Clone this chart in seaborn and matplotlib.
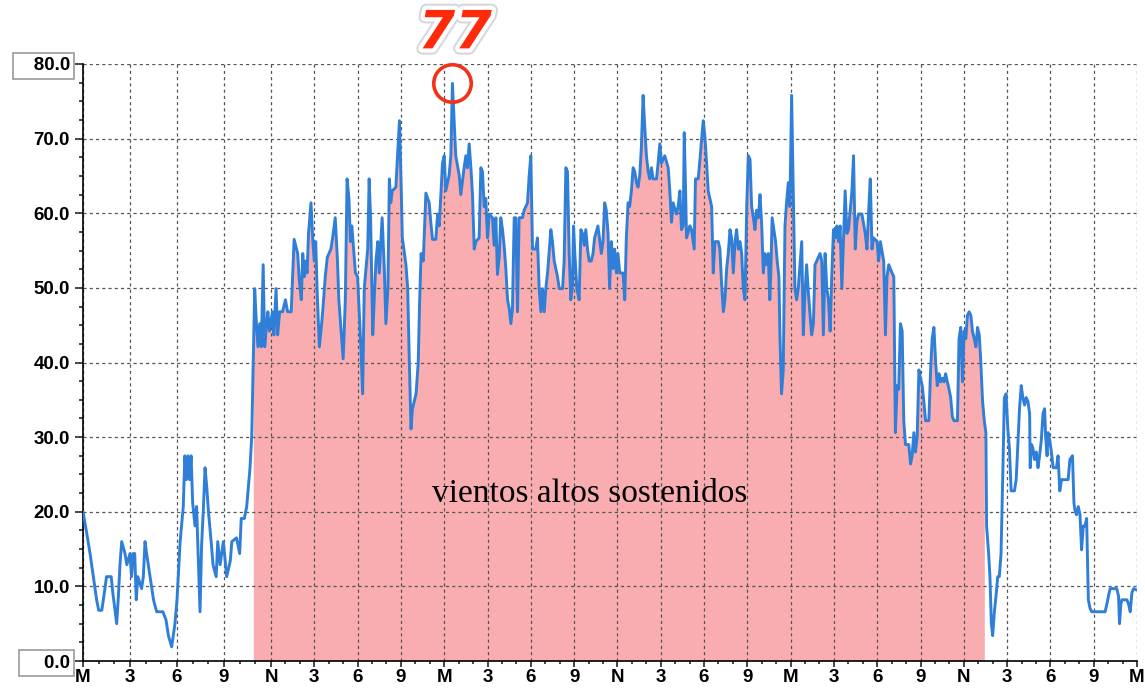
import numpy as np
import pandas as pd
import seaborn as sns
import matplotlib.pyplot as plt
from matplotlib import patheffects as pe

# Wind gust record over three days (hours since midnight, gust value)
hours = [
    0.0, 0.2, 0.45, 0.66, 0.87, 1.0, 1.2, 1.4, 1.5, 1.8, 1.9, 2.15, 2.26, 2.36, 2.47, 2.68, 2.8,
    3.0, 3.1, 3.2, 3.3, 3.4, 3.5, 3.74, 3.85, 3.96, 4.06, 4.28, 4.5, 4.7, 5.1, 5.3, 5.45, 5.66,
    5.87, 6.0, 6.2, 6.4, 6.5, 6.6, 6.7, 6.8, 6.9, 7.0, 7.15, 7.25, 7.47, 7.57, 7.68, 7.79, 7.9,
    8.0, 8.2, 8.3, 8.5, 8.6, 8.75, 8.96, 9.17, 9.4, 9.5, 9.8, 10.0, 10.1, 10.3, 10.45, 10.66,
    10.77, 10.87, 10.96, 11.07, 11.17, 11.28, 11.38, 11.5, 11.6, 11.7, 11.8, 11.9, 12.1, 12.2,
    12.35, 12.46, 12.6, 12.8, 13.0, 13.15, 13.4, 13.5, 13.6, 13.85, 13.96, 14.1, 14.2, 14.3,
    14.4, 14.5, 14.6, 14.77, 14.9, 15.0, 15.1, 15.2, 15.35, 15.46, 15.58, 15.76, 15.9, 16.15,
    16.27, 16.45, 16.6, 16.7, 16.9, 17.0, 17.15, 17.27, 17.4, 17.5, 17.6, 17.85, 18.0, 18.1,
    18.2, 18.35, 18.46, 18.58, 18.7, 18.8, 18.9, 19.05, 19.16, 19.27, 19.4, 19.5, 19.6, 19.7,
    19.85, 19.96, 20.1, 20.2, 20.3, 20.4, 20.65, 20.77, 20.9, 21.0, 21.1, 21.35, 21.47, 21.58,
    21.7, 21.8, 22.05, 22.2, 22.3, 22.4, 22.55, 22.73, 22.96, 23.07, 23.19, 23.42, 23.54, 23.65,
    23.77, 23.88, 24.0, 24.11, 24.34, 24.46, 24.57, 24.69, 24.8, 25.04, 25.15, 25.38, 25.5,
    25.61, 25.73, 25.85, 25.96, 26.08, 26.19, 26.42, 26.54, 26.65, 26.77, 26.88, 27.0, 27.12,
    27.35, 27.46, 27.58, 27.69, 27.81, 27.92, 28.04, 28.15, 28.27, 28.39, 28.5, 28.62, 28.73,
    28.85, 28.96, 29.08, 29.19, 29.42, 29.54, 29.77, 29.89, 30.0, 30.12, 30.35, 30.46, 30.58,
    30.7, 30.81, 30.93, 31.04, 31.16, 31.39, 31.5, 31.62, 31.73, 31.85, 31.97, 32.2, 32.31,
    32.43, 32.54, 32.66, 32.77, 32.89, 32.96, 33.05, 33.19, 33.35, 33.47, 33.58, 33.7, 33.81,
    33.93, 34.04, 34.19, 34.31, 34.42, 34.65, 34.89, 35.0, 35.12, 35.23, 35.35, 35.46, 35.58,
    35.7, 35.81, 35.93, 36.04, 36.16, 36.39, 36.51, 36.62, 36.74, 36.85, 36.97, 37.09, 37.2,
    37.32, 37.43, 37.55, 37.66, 37.78, 37.9, 38.01, 38.13, 38.24, 38.36, 38.47, 38.71, 38.82,
    38.94, 39.05, 39.28, 39.52, 39.63, 39.75, 39.86, 40.09, 40.21, 40.33, 40.44, 40.56, 40.63,
    40.72, 40.79, 41.02, 41.14, 41.32, 41.41, 41.6, 41.72, 41.83, 41.95, 42.06, 42.18, 42.29,
    42.53, 42.64, 42.76, 42.99, 43.1, 43.22, 43.34, 43.45, 43.57, 43.68, 43.8, 43.91, 44.03,
    44.15, 44.26, 44.38, 44.49, 44.61, 44.72, 44.84, 44.96, 45.07, 45.19, 45.3, 45.42, 45.53,
    45.65, 45.77, 45.88, 46.0, 46.11, 46.21, 46.33, 46.45, 46.56, 46.63, 46.72, 46.84, 46.96,
    47.07, 47.19, 47.26, 47.37, 47.49, 47.61, 47.72, 47.84, 47.95, 48.07, 48.19, 48.3, 48.42,
    48.53, 48.65, 48.77, 48.88, 49.0, 49.11, 49.23, 49.35, 49.46, 49.58, 49.69, 49.81, 50.04,
    50.16, 50.27, 50.39, 50.51, 50.62, 50.74, 50.85, 50.97, 51.09, 51.2, 51.32, 51.43, 51.55,
    51.67, 51.78, 51.9, 52.01, 52.13, 52.25, 52.36, 52.48, 52.59, 52.71, 52.94, 53.17, 53.29,
    53.41, 53.52, 53.64, 53.75, 53.99, 54.1, 54.22, 54.45, 54.57, 54.68, 54.8, 55.03, 55.15,
    55.26, 55.38, 55.49, 55.61, 55.73, 55.84, 55.96, 56.19, 56.31, 56.42, 56.54, 56.65, 56.77,
    56.89, 57.0, 57.12, 57.23, 57.35, 57.58, 57.7, 57.81, 57.93, 58.05, 58.16, 58.28, 58.39,
    58.51, 58.63, 58.74, 58.86, 58.98, 59.09, 59.21, 59.32, 59.56, 59.67, 59.79, 59.91, 60.02,
    60.14, 60.25, 60.37, 60.49, 60.6, 60.72, 60.84, 60.95, 61.07, 61.18, 61.3, 61.42, 61.53,
    61.58, 61.72, 61.81, 61.91, 62.0, 62.12, 62.23, 62.35, 62.46, 62.58, 62.7, 62.81, 62.93,
    63.05, 63.16, 63.28, 63.51, 63.63, 63.74, 63.86, 63.98, 64.09, 64.21, 64.32, 64.44, 64.56,
    64.6, 64.7, 64.79, 64.91, 65.02, 65.14, 65.25, 65.37, 65.49, 65.6, 65.67, 65.77, 65.84,
    65.95, 66.07, 66.19, 66.42, 66.53, 66.65, 66.77, 67.23, 67.35, 67.53, 67.63, 67.7, 67.81,
    67.93, 68.05, 68.16, 68.28, 68.4, 68.51, 68.63, 68.74, 68.86, 69.79, 69.91, 70.02, 70.14,
    70.6, 70.72, 70.79, 70.88, 70.95, 71.3, 71.42, 71.53, 71.65, 71.77, 72.0,
]
gust = [
    20.0, 17.6, 14.4, 11.3, 8.2, 6.8, 6.8, 9.7, 11.3, 11.3, 9.2, 5.0, 8.7, 12.9, 16.0, 14.4, 12.9,
    14.4, 11.3, 14.4, 14.4, 8.2, 11.3, 9.7, 11.3, 16.0, 14.4, 11.3, 8.2, 6.6, 6.6, 5.5, 3.4, 1.9,
    5.0, 8.2, 16.0, 20.7, 27.5, 24.3, 27.5, 24.3, 27.5, 21.2, 18.1, 20.7, 6.6, 15.5, 20.2, 25.9, 23.3,
    20.2, 15.5, 12.9, 11.3, 16.0, 12.9, 16.0, 11.3, 13.4, 16.0, 16.5, 14.4, 19.1, 19.1, 20.7, 25.9,
    30.1, 40.5, 49.9, 45.2, 42.1, 45.2, 42.1, 53.1, 42.1, 44.7, 46.8, 44.2, 46.8, 43.7,
    49.9, 43.7, 46.8, 46.8, 48.4, 46.8, 46.8, 51.5, 56.5, 54.6, 51.0, 48.4, 54.6, 51.5,
    53.6, 52.0, 57.3, 61.4, 56.2, 53.6, 56.2, 49.4, 42.1, 44.2, 46.8, 51.5, 54.1, 55.2,
    56.7, 59.4, 53.9, 48.4, 43.2, 40.5, 48.4, 64.6, 62.0, 56.2, 58.3, 52.0, 51.5, 47.3,
    43.2, 35.8, 49.9, 52.6, 55.2, 64.6, 59.4, 43.7, 48.9, 53.6, 56.2, 52.0, 55.7, 59.4,
    52.6, 45.2, 49.9, 64.6, 61.4, 63.0, 63.5, 67.7, 72.4, 65.1, 56.7, 53.1, 49.9, 40.5,
    31.1, 33.8, 35.8, 40.0, 48.4, 54.6, 53.6, 62.7, 61.4, 58.8, 56.5, 56.5, 59.9, 58.3,
    62.5, 66.7, 67.7, 63.0, 65.1, 67.7, 77.4, 72.4, 67.7, 65.1, 62.5, 66.1, 67.7,
    66.1, 69.3, 66.1, 62.5, 55.2, 56.2, 56.7, 66.1, 65.6, 60.9, 62.0, 56.7, 59.9,
    59.4, 55.7, 59.4, 51.8, 54.1, 59.4, 57.8, 55.7, 52.6, 48.4, 47.3, 45.2, 47.3,
    59.4, 59.4, 46.8, 59.4, 59.4, 60.4, 61.4, 65.1, 67.7, 55.2, 55.2, 56.7, 49.9,
    46.8, 49.9, 46.8, 49.9, 52.0, 57.8, 56.2, 53.6, 52.6, 51.5, 49.9, 49.9, 53.6,
    66.1, 65.6, 54.6, 48.4, 50.5, 58.3, 54.6, 49.9, 48.4, 57.8, 57.3, 55.7, 57.8,
    55.2, 53.6, 53.6, 54.6, 56.7, 58.3, 54.6, 56.2, 61.4, 60.4, 57.3, 49.9, 56.2,
    52.6, 55.2, 52.0, 54.6, 52.0, 52.0, 48.4, 56.7, 61.4, 60.9, 63.0, 66.1, 65.6,
    64.1, 63.5, 65.1, 68.8, 75.8, 71.4, 67.7, 65.6, 64.6, 66.1, 64.6, 64.6, 66.7,
    69.3, 66.7, 67.7, 66.1, 63.0, 58.8, 61.4, 59.9, 60.9, 63.0, 57.8, 58.3, 70.8,
    63.5, 56.7, 58.3, 57.8, 55.2, 64.6, 64.6, 67.2, 69.8, 72.4, 70.3, 66.7, 63.0,
    60.9, 52.0, 56.2, 56.2, 55.2, 50.5, 46.8, 48.4, 52.6, 54.6, 57.8, 56.7, 52.0,
    56.2, 57.8, 55.2, 56.2, 54.6, 49.9, 48.4, 60.9, 67.7, 67.2, 60.9, 59.4, 57.8,
    60.4, 59.4, 62.5, 58.3, 52.0, 54.6, 53.1, 54.6, 48.4, 52.0, 59.4, 57.8, 56.2,
    53.6, 51.5, 43.7, 35.8, 39.0, 58.3, 61.4, 64.1, 60.9, 75.8, 62.5, 49.9, 48.4,
    49.9, 53.1, 56.2, 43.7, 49.4, 53.1, 49.4, 46.3, 43.7, 45.2, 53.1, 53.6, 54.6,
    53.6, 43.7, 54.6, 49.9, 48.4, 44.2, 51.5, 57.8, 56.7, 58.3, 56.2, 58.3, 49.9,
    56.7, 63.0, 57.3, 57.8, 60.4, 63.0, 67.7, 55.2, 58.8, 59.9, 59.9, 57.3, 55.2,
    60.4, 64.6, 55.2, 56.7, 56.2, 53.6, 56.2, 53.6, 43.7, 51.5, 53.1, 52.0, 51.5,
    30.6, 36.9, 36.4, 45.2, 44.2, 32.2, 29.0, 29.0, 26.4, 27.5, 30.6, 28.0, 30.1,
    39.0, 37.9, 36.9, 34.8, 32.2, 32.2, 39.0, 43.2, 44.7, 40.0, 36.9, 38.5, 37.4,
    37.9, 37.4, 38.5, 37.4, 36.4, 35.3, 32.7, 32.2, 32.2, 43.2, 44.7, 37.4, 44.2,
    43.2, 46.3, 46.8, 46.3, 44.2, 43.2, 42.1, 44.7, 43.7, 40.0, 34.8, 32.2, 30.6,
    18.1, 14.4, 11.3, 5.0, 3.4, 6.6, 8.7, 11.3, 11.3, 14.4, 24.9, 35.3, 35.8,
    31.1, 28.5, 22.8, 22.8, 24.3, 29.0, 33.8, 36.9, 35.3, 34.3, 35.3, 34.8, 33.2,
    25.9, 29.0, 28.5, 27.0, 28.0, 25.9, 27.5, 29.6, 33.2, 33.8, 30.1, 27.5, 30.6,
    29.6, 28.0, 25.9, 25.9, 27.5, 22.8, 24.3, 24.3, 27.0, 27.5, 21.2, 20.2, 19.6,
    20.7, 19.6, 14.9, 18.1, 18.1, 19.1, 8.2, 7.1, 6.6, 6.6, 7.6, 8.7, 9.7,
    9.7, 8.7, 5.0, 7.6, 8.2, 8.2, 7.6, 6.6, 9.2, 9.7, 9.5,
]

x_ticks = list(range(0, 73, 3))
x_labels = ['M', '3', '6', '9', 'N', '3', '6', '9'] * 3 + ['M']
y_ticks = [0, 10, 20, 30, 40, 50, 60, 70, 80]
sustained_from, sustained_to = 10.85, 61.45
note = 'vientos altos sostenidos'

# the source chart draws the first morning a bit wider than the rest
def fwd(h):
    h = np.asarray(h, dtype=float)
    return np.where(h < 12, h * 47 / 43.3, 12 * 47 / 43.3 + (h - 12))

def inv(u):
    u = np.asarray(u, dtype=float)
    k = 12 * 47 / 43.3
    return np.where(u < k, u * 43.3 / 47, u - k + 12)

sns.set_theme(style='white')
plt.rcParams['font.family'] = ['Liberation Sans', 'DejaVu Sans']

df = pd.DataFrame({'hora': hours, 'racha': gust})
high = df[(df['hora'] >= sustained_from) & (df['hora'] <= sustained_to)]

fig = plt.figure(figsize=(11.45, 6.93), dpi=100)
ax = fig.add_axes([83 / 1145, 32 / 693, 1054 / 1145, 597 / 693])

ax.fill_between(high['hora'], 0, high['racha'], color='#F9ADB0', lw=0, zorder=0.2)
sns.lineplot(data=df, x='hora', y='racha', ax=ax, color='#2F7FD8', lw=2.1,
             estimator=None, sort=False, zorder=3)

ax.set_xscale('function', functions=(fwd, inv))
ax.set_xlim(0, 72)
ax.set_ylim(0, 80)
ax.set_xlabel('')
ax.set_ylabel('')

ax.set_xticks(x_ticks)
ax.set_xticklabels(x_labels)
ax.set_xticks(range(0, 73), minor=True)
ax.set_yticks(y_ticks)
ylabs = [f'{v:.1f}' for v in y_ticks]
ylabs[0] = '    ' + ylabs[0]
ylabs[-1] = '   ' + ylabs[-1]
ax.set_yticklabels(ylabs)
ax.set_yticks(np.arange(0, 80.1, 2.5), minor=True)

for lab in ax.get_xticklabels() + ax.get_yticklabels():
    lab.set_fontweight('bold')
    lab.set_fontsize(13.5)
    lab.set_color('black')
for lab in (ax.get_yticklabels()[0], ax.get_yticklabels()[-1]):
    lab.set_bbox(dict(boxstyle='square,pad=0.22', fc='white', ec='#9a9a9a', lw=1.2))

ax.tick_params(axis='x', which='major', direction='out', length=4.5, width=1.2, pad=1, bottom=True)
ax.tick_params(axis='x', which='minor', direction='out', length=2.5, width=1.2, bottom=True)
ax.tick_params(axis='y', which='major', direction='out', length=6, width=1.2, pad=3.5, left=True)
ax.tick_params(axis='y', which='minor', direction='out', length=3, width=1.2, left=True)

ax.set_axisbelow(True)
ax.grid(True, which='major', color='#555555', lw=0.9, linestyle=(0, (2.5, 2.5)))
for side in ['top', 'right']:
    ax.spines[side].set_visible(False)
for side in ['left', 'bottom']:
    ax.spines[side].set_color('black')
    ax.spines[side].set_linewidth(1.2)

# circle and label on the highest gust
i = df['racha'].idxmax()
ax.plot(df['hora'][i], df['racha'][i], marker='o', ms=27, mfc='none', mec='#F03318',
        mew=2.6, zorder=4, clip_on=False)
ax.annotate(f"{df['racha'][i]:.0f}", (df['hora'][i], df['racha'][i]), xytext=(2, 36),
            textcoords='offset points', ha='center', va='center', fontsize=38,
            fontweight='bold', style='italic', color='#FF2A0A', family='DejaVu Sans',
            annotation_clip=False, zorder=5,
            path_effects=[pe.Stroke(linewidth=9, foreground='#d8d8d8'),
                          pe.Stroke(linewidth=6, foreground='white'), pe.Normal()])

ax.text(0.481, 0.28, note, transform=ax.transAxes, ha='center', va='center',
        family='Liberation Serif', fontsize=24, color='black', zorder=5)

fig.savefig('out.png', dpi=100)
